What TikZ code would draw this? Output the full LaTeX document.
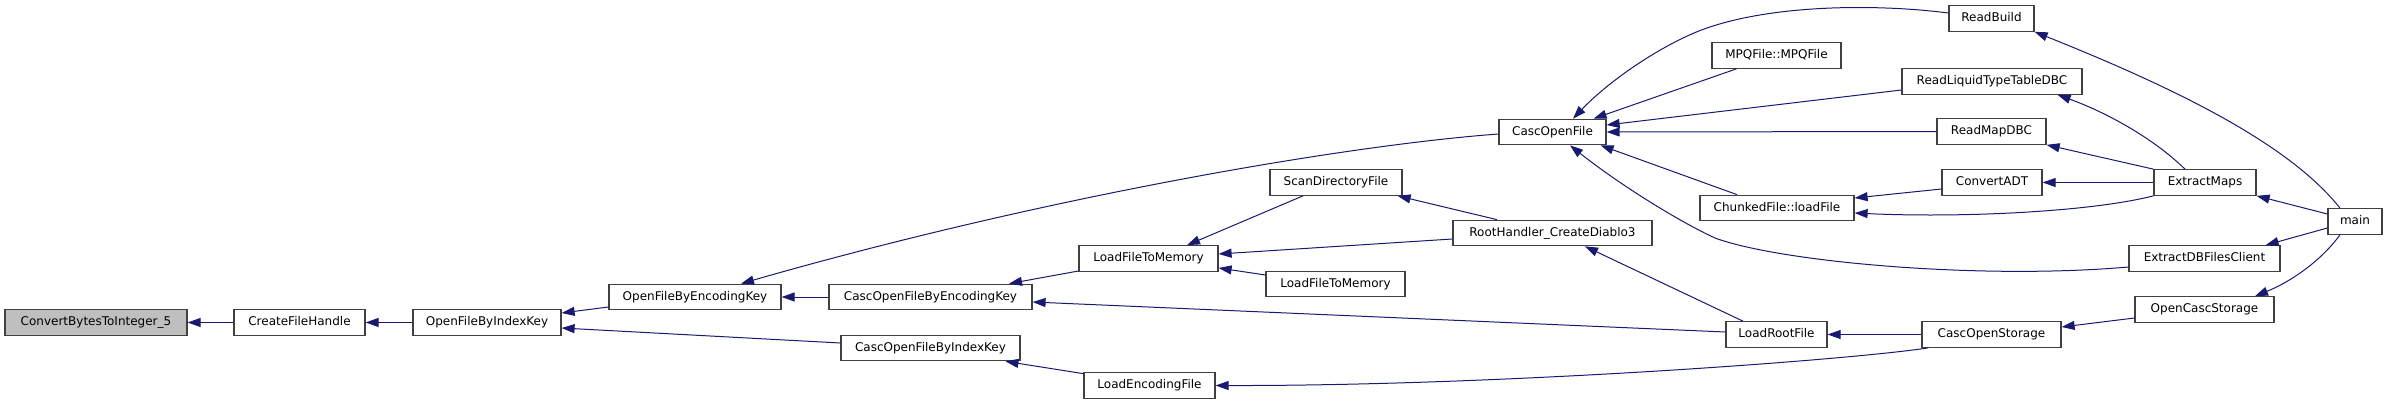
\documentclass[tikz,border=0pt]{standalone}
\usepackage{fontspec}
\setmainfont{DejaVu Sans}
\usetikzlibrary{arrows.meta,calc}
\definecolor{edgeblue}{HTML}{191970}
\definecolor{boxborder}{HTML}{404040}
\definecolor{focusfill}{HTML}{BFBFBF}
\begin{document}
\begin{tikzpicture}[x=1pt,y=-1pt,
  fnode/.style={draw=boxborder, line width=1.2pt, fill=white, inner sep=0pt,
    minimum height=25.5pt, font=\fontsize{12}{14}\selectfont,
    text height=8.8pt, text depth=2.4pt, anchor=center},
  focusnode/.style={fnode, fill=focusfill},
  call/.style={draw=edgeblue, line width=1pt,
    -{Triangle[length=13pt,width=9pt]}, edgeblue},
]
\useasboundingbox (0,0) rectangle (2385,404);

% nodes
\node[focusnode, minimum width=182pt] (cb)    at (96,322.5)    {ConvertBytesToInteger\_5};
\node[fnode, minimum width=131pt] (cfh)   at (299.5,322.5) {CreateFileHandle};
\node[fnode, minimum width=148pt] (ofik)  at (487,322.5)   {OpenFileByIndexKey};
\node[fnode, minimum width=172pt] (ofek)  at (695,297)     {OpenFileByEncodingKey};
\node[fnode, minimum width=203pt] (cofek) at (930.5,297)   {CascOpenFileByEncodingKey};
\node[fnode, minimum width=179pt] (cofik) at (930.5,348)   {CascOpenFileByIndexKey};
\node[fnode, minimum width=139pt] (lftm)  at (1148.5,258.5) {LoadFileToMemory};
\node[fnode, minimum width=131pt] (lef)   at (1149.5,385.5) {LoadEncodingFile};
\node[fnode, minimum width=132pt] (sdf)   at (1336,182.5)  {ScanDirectoryFile};
\node[fnode, minimum width=199pt] (rh)    at (1552.5,233)  {RootHandler\_CreateDiablo3};
\node[fnode, minimum width=139pt] (lftmb) at (1335.5,284)  {LoadFileToMemory};
\node[fnode, minimum width=101pt] (lrf)   at (1776.5,334.5) {LoadRootFile};
\node[fnode, minimum width=139pt] (cos)   at (1991.5,334.5) {CascOpenStorage};
\node[fnode, minimum width=107pt] (cof)   at (1552.5,132)  {CascOpenFile};
\node[fnode, minimum width=129pt] (mpq)   at (1776.5,55.5) {MPQFile::MPQFile};
\node[fnode, minimum width=154pt] (ckf)   at (1777,208)    {ChunkedFile::loadFile};
\node[fnode, minimum width=85pt]  (rb)    at (1991.5,18.5) {ReadBuild};
\node[fnode, minimum width=180pt] (rlt)   at (1992,81.5)   {ReadLiquidTypeTableDBC};
\node[fnode, minimum width=109pt] (rmd)   at (1991.5,131.5) {ReadMapDBC};
\node[fnode, minimum width=100pt] (cadt)  at (1992,182.5)  {ConvertADT};
\node[fnode, minimum width=102pt] (em)    at (2205,182.5)  {ExtractMaps};
\node[fnode, minimum width=54pt]  (main)  at (2355,221.5)  {main};
\node[fnode, minimum width=151pt] (edb)   at (2204.5,258.5) {ExtractDBFilesClient};
\node[fnode, minimum width=139pt] (ocs)   at (2204.5,309.5) {OpenCascStorage};

% edges (caller -> callee, arrowhead at callee)
\draw[call] (cfh.west) -- (cb.east);
\draw[call] (ofik.west) -- (cfh.east);
\draw[call] ($(ofek.west)+(0,10)$) -- ($(ofik.east)+(0,-9.5)$);
\draw[call] ($(cofik.west)+(0,-5)$) -- ($(ofik.east)+(0,5.5)$);
\draw[call] ($(cof.west)+(0,2)$) .. controls (1350,145) and (1050,195) .. ($(ofek.north)+(46,0)$);
\draw[call] (cofek.west) -- (ofek.east);
\draw[call] ($(lftm.west)+(0,12.5)$) -- ($(cofek.north)+(78.5,0)$);
\draw[call] ($(lrf.west)+(0,-2.5)$) -- ($(cofek.east)+(0,5)$);
\draw[call] ($(lef.north west)+(0,1.5)$) -- ($(cofik.south)+(75,0)$);
\draw[call] ($(sdf.south)+(-33,0)$) -- ($(lftm.north)+(38.5,0)$);
\draw[call] ($(rh.west)+(0,6)$) -- ($(lftm.east)+(0,-4.5)$);
\draw[call] ($(lftmb.west)+(0,-9)$) -- ($(lftm.east)+(0,9.5)$);
\draw[call] ($(rh.north)+(-55.5,0)$) -- ($(sdf.south east)+(-5,0)$);
\draw[call] ($(lrf.north)+(-33.5,0)$) -- ($(rh.south)+(32.5,0)$);
\draw[call] (cos.west) -- (lrf.east);
\draw[call] ($(cos.south west)+(7,0)$) .. controls (1850,360) and (1500,386) .. (lef.east);
\draw[call] ($(rb.west)+(0,-5.5)$) .. controls (1870,3) and (1760,5) .. (1694,33)
   .. controls (1650,52) and (1605,85) .. ($(cof.north)+(20.5,0)$);
\draw[call] ($(mpq.south west)+(25,0)$) -- ($(cof.north east)+(-13,0)$);
\draw[call] ($(rlt.west)+(0,8.5)$) -- ($(cof.east)+(0,-7)$);
\draw[call] (rmd.west) -- (cof.east);
\draw[call] ($(ckf.north)+(-40,0)$) -- ($(cof.south east)+(-6,0)$);
\draw[call] ($(edb.west)+(0,8.5)$) .. controls (1980,280) and (1780,262) .. (1715,238)
   .. controls (1680,222) and (1620,185) .. ($(cof.south)+(17.5,0)$);
\draw[call] ($(cadt.west)+(0,6.5)$) -- ($(ckf.east)+(0,-10)$);
\draw[call] (em.south west) .. controls (2090,212) and (1960,218) .. ($(ckf.east)+(0,5)$);
\draw[call] ($(em.north)+(-20,0)$) .. controls (2150,135) and (2100,110) .. ($(rlt.south east)+(-25,0)$);
\draw[call] (em.north west) -- (rmd.south east);
\draw[call] (em.west) -- (cadt.east);
\draw[call] ($(main.north)+(-15,0)$) .. controls (2290,145) and (2180,90) .. (rb.south east);
\draw[call] ($(main.west)+(0,-7.5)$) -- (em.south east);
\draw[call] ($(main.west)+(0,6.5)$) -- ($(edb.north east)+(-15,0)$);
\draw[call] ($(main.south)+(-15,0)$) .. controls (2320,262) and (2290,282) .. ($(ocs.north)+(50.5,0)$);
\draw[call] ($(ocs.west)+(0,8.5)$) -- ($(cos.east)+(0,-7.5)$);
\end{tikzpicture}
\end{document}
